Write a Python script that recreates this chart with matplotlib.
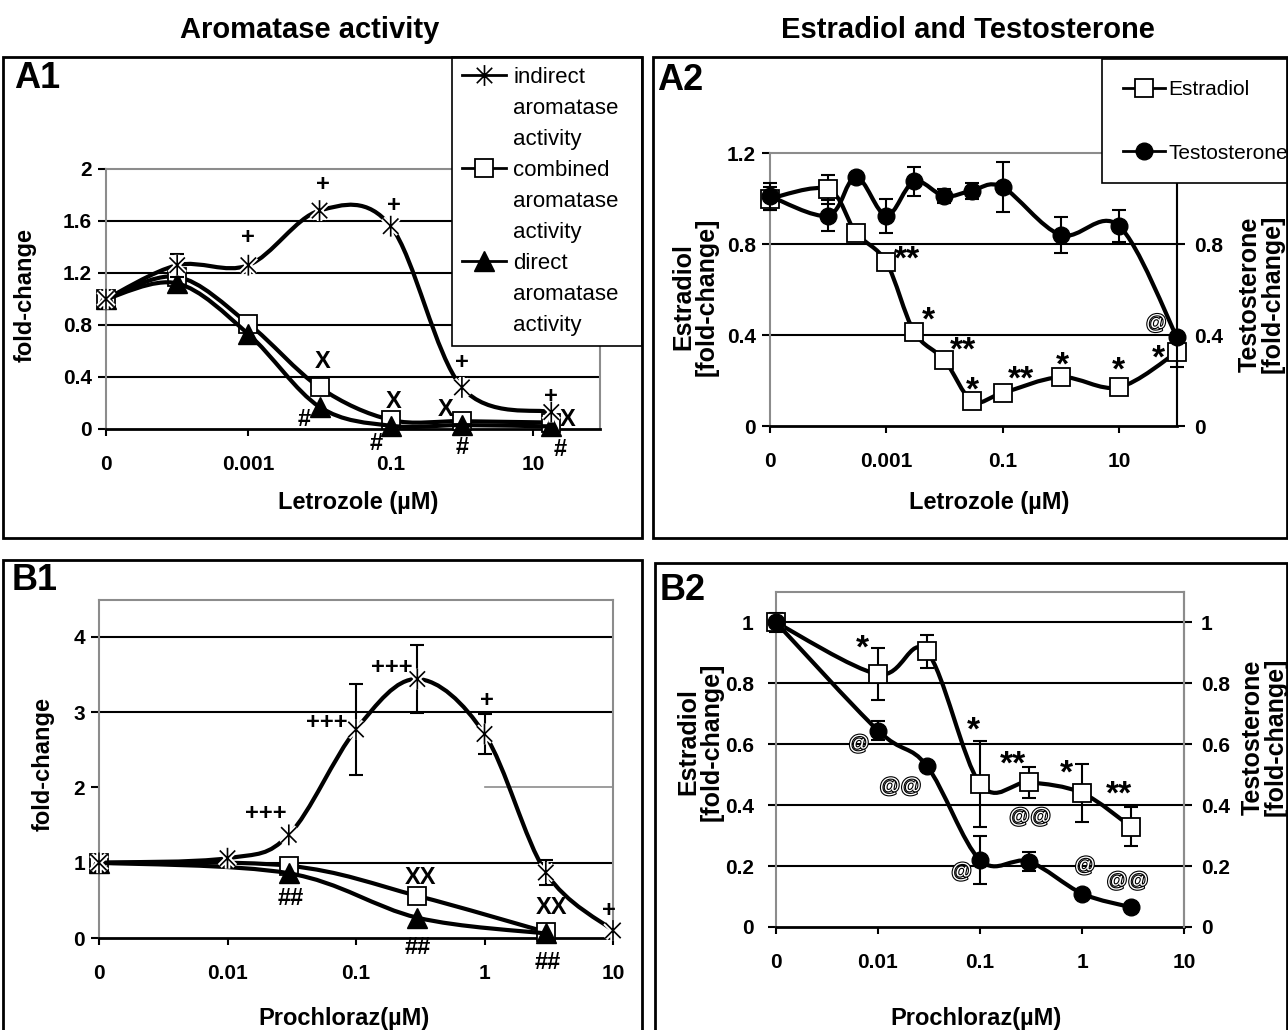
import matplotlib
matplotlib.use('Agg')
import matplotlib.pyplot as plt
import numpy as np
from matplotlib.path import Path
from matplotlib.patches import PathPatch, Rectangle
from matplotlib.lines import Line2D
from matplotlib.ticker import FormatStrFormatter
import matplotlib.transforms as mtransforms
import matplotlib.patheffects as pe

plt.rcParams['font.family'] = ['Liberation Sans Narrow', 'Liberation Sans', 'DejaVu Sans']

W, H = 1288, 1030

# ---------------- data ----------------
# A1: letrozole -> aromatase activity (fold-change)
a1_conc = [0, 1e-4, 1e-3, 1e-2, 1e-1, 1, 18]
a1_indirect = [1.0, 1.26, 1.26, 1.68, 1.56, 0.32, 0.13]
a1_indirect_err = [0, 0.09, 0, 0, 0, 0, 0]
a1_combined = [1.0, 1.17, 0.81, 0.32, 0.07, 0.06, 0.05]
a1_direct = [1.0, 1.12, 0.73, 0.17, 0.025, 0.03, 0.02]
a1_marks = [('+', 1e-3, 1.47), ('+', 1.1e-2, 1.88), ('+', 0.11, 1.72), ('+', 1.0, 0.51),
            ('+', 18, 0.25), ('X', 1.1e-2, 0.52), ('X', 0.11, 0.21), ('X', 0.6, 0.15),
            ('X', 31, 0.07), ('#', 6e-3, 0.07), ('#', 0.062, -0.11), ('#', 1.0, -0.14),
            ('#', 24, -0.16)]

# A2: letrozole -> estradiol / testosterone
a2_conc = [0, 1e-4, 3e-4, 1e-3, 3e-3, 1e-2, 3e-2, 1e-1, 1, 10, 100]
a2_estradiol = [1.0, 1.04, 0.85, 0.72, 0.415, 0.29, 0.11, 0.145, 0.215, 0.17, 0.325]
a2_estradiol_err = [0.05, 0.065, 0, 0, 0, 0, 0, 0, 0, 0, 0.065]
a2_testosterone = [1.01, 0.925, 1.095, 0.925, 1.075, 1.01, 1.035, 1.05, 0.84, 0.88, 0.39]
a2_testosterone_err = [0.06, 0.07, 0, 0.075, 0.065, 0.03, 0.035, 0.11, 0.08, 0.07, 0]
a2_marks = [('**', 2.3e-3, 0.765), ('*', 5.4e-3, 0.497), ('**', 0.021, 0.365), ('*', 0.03, 0.19),
            ('**', 0.21, 0.24), ('*', 1.07, 0.30), ('*', 10, 0.28), ('*', 47, 0.33), ('@', 44, 0.45)]

# B1: prochloraz -> aromatase activity
b1_conc = [0, 0.01, 0.03, 0.1, 0.3, 1, 3, 10]
b1_indirect = [1.0, 1.06, 1.37, 2.77, 3.44, 2.71, 0.87, 0.1]
b1_indirect_err = [0, 0, 0, 0.61, 0.45, 0.26, 0.16, 0]
b1_sub_conc = [0, 0.03, 0.3, 3]
b1_combined = [1.0, 0.96, 0.56, 0.08]
b1_direct = [1.0, 0.86, 0.27, 0.06]
b1_marks = [('+++', 0.02, 1.66), ('+++', 0.059, 2.86), ('+++', 0.19, 3.59), ('+', 1.05, 3.16),
            ('+', 9.3, 0.37), ('XX', 0.32, 0.81), ('XX', 3.3, 0.40), ('##', 0.031, 0.52),
            ('##', 0.3, -0.13), ('##', 3.1, -0.32)]

# B2: prochloraz -> estradiol / testosterone
b2_conc = [0, 0.01, 0.03, 0.1, 0.3, 1, 3]
b2_estradiol = [1.0, 0.83, 0.905, 0.47, 0.475, 0.44, 0.33]
b2_estradiol_err = [0.03, 0.085, 0.055, 0.14, 0.05, 0.095, 0.065]
b2_testosterone = [1.0, 0.645, 0.53, 0.22, 0.215, 0.11, 0.065]
b2_testosterone_err = [0, 0.03, 0, 0.08, 0.03, 0, 0]
b2_marks = [('*', 7e-3, 0.94), ('@', 6.5e-3, 0.60), ('@@', 0.0166, 0.46), ('*', 0.087, 0.67),
            ('**', 0.21, 0.56), ('@', 0.066, 0.18), ('@@', 0.31, 0.36), ('*', 0.71, 0.53),
            ('@', 1.07, 0.20), ('**', 2.3, 0.46), ('@@', 2.8, 0.15)]

a_ticks = [0, 0.001, 0.1, 10]
a_tick_labels = ['0', '0.001', '0.1', '10']
b_ticks = [0, 0.01, 0.1, 1, 10]
b_tick_labels = ['0', '0.01', '0.1', '1', '10']


def fx(x):
    return x / W


def fy(y):
    return 1 - y / H


def xpos(conc, zero):
    c = np.asarray(conc, dtype=float)
    out = np.full(c.shape, float(zero))
    m = c > 0
    out[m] = np.log10(c[m])
    return out


def smooth_path(x, y):
    # excel-like smoothed line (bezier through the points)
    pts = np.column_stack([x, y])
    n = len(pts)
    verts = [pts[0]]
    codes = [Path.MOVETO]
    for i in range(n - 1):
        p0 = pts[i - 1] if i > 0 else pts[i]
        p1 = pts[i]
        p2 = pts[i + 1]
        p3 = pts[i + 2] if i + 2 < n else pts[i + 1]
        verts += [p1 + (p2 - p0) / 6.0, p2 - (p3 - p1) / 6.0, p2]
        codes += [Path.CURVE4] * 3
    return Path(verts, codes)


star = Path([(-1, -1), (1, 1), (-1, 1), (1, -1), (0, -1.35), (0, 1.35)],
            [Path.MOVETO, Path.LINETO] * 3)
halo = [pe.Stroke(linewidth=4, foreground='white'), pe.Normal()]

STYLE = {
    'star': dict(marker=star, ms=15, mfc='none', mec='black', mew=1.2, path_effects=halo),
    'square': dict(marker='s', ms=13, mfc='white', mec='black', mew=1.3),
    'tri': dict(marker='^', ms=14, mfc='black', mec='black', mew=1),
    'dot': dict(marker='o', ms=12, mfc='black', mec='black', mew=1),
}


def series(ax, x, y, kind, err=None, z=3):
    y = np.asarray(y, dtype=float)
    ax.add_patch(PathPatch(smooth_path(x, y), fc='none', ec='black', lw=3,
                           zorder=z, clip_on=False, joinstyle='round'))
    if err is not None:
        e = np.asarray(err, dtype=float)
        m = e > 0
        ax.errorbar(x[m], y[m], yerr=e[m], fmt='none', ecolor='black', elinewidth=1.5,
                    capsize=5, capthick=1.5, zorder=z + 0.5, clip_on=False)
    ax.plot(x, y, ls='none', zorder=z + 1, clip_on=False, **STYLE[kind])


def proxy(kind):
    st = dict(STYLE[kind])
    st.pop('path_effects', None)
    return Line2D([], [], color='black', lw=2, **st)


def marks(ax, items, zero):
    low = mtransforms.offset_copy(ax.transData, fig=ax.figure, y=-6, units='points')
    for s, c, v in items:
        px = xpos([c], zero)[0]
        if '@' in s:
            ax.text(px, v, s, ha='center', va='center', fontsize=15,
                    color='white', zorder=8, clip_on=False,
                    path_effects=[pe.withStroke(linewidth=1.6, foreground='black')])
        elif '*' in s:
            ax.text(px, v, s, ha='center', va='center', fontsize=24, transform=low,
                    fontweight='bold', zorder=8, clip_on=False)
        else:
            ax.text(px, v, s, ha='center', va='center', fontsize=17,
                    fontweight='bold', zorder=8, clip_on=False)


def style(ax, zero, xmax, ticks, labels, ylim, yticks, grid):
    ax.set_xlim(zero, xmax)
    ax.set_ylim(*ylim)
    ax.set_xticks(xpos(ticks, zero), labels)
    ax.set_yticks(yticks)
    ax.yaxis.set_major_formatter(FormatStrFormatter('%g'))
    for s in ax.spines.values():
        s.set_color('#8c8c8c')
        s.set_linewidth(1.5)
    ax.spines['bottom'].set_color('black')
    ax.spines['bottom'].set_linewidth(2)
    ax.tick_params(axis='x', direction='out', length=5, width=1.5, labelsize=15, pad=14)
    ax.tick_params(axis='y', direction='out', length=6, width=1.5, labelsize=15, pad=4)
    for t in ax.get_xticklabels() + ax.get_yticklabels():
        t.set_fontweight('bold')
    for g in grid:
        ax.axhline(g, color='black', lw=1.5, zorder=1)


def twin(ax, ylim, yticks, color):
    ax2 = ax.twinx()
    ax2.set_ylim(*ylim)
    ax2.set_yticks(yticks)
    ax2.yaxis.set_major_formatter(FormatStrFormatter('%g'))
    for s in ax2.spines.values():
        s.set_visible(False)
    ax2.spines['right'].set_visible(True)
    ax2.spines['right'].set_color(color)
    ax2.spines['right'].set_linewidth(1.5)
    ax2.tick_params(axis='y', direction='out', length=6, width=1.5, labelsize=15, pad=6)
    for t in ax2.get_yticklabels():
        t.set_fontweight('bold')
    return ax2


fig = plt.figure(figsize=(W / 100, H / 100), dpi=100)

# panel frames
for (x0, y0, x1, y1) in [(3, 57, 642, 538), (653, 57, 1287, 538),
                         (3, 560, 642, 1040), (655, 563, 1287, 1040)]:
    fig.add_artist(Rectangle((fx(x0), fy(y1)), (x1 - x0) / W, (y1 - y0) / H,
                             transform=fig.transFigure, fill=False, lw=2, ec='black'))

fig.text(fx(310), fy(30), 'Aromatase activity', ha='center', va='center',
         fontsize=21, fontweight='bold')
fig.text(fx(968), fy(30), 'Estradiol and Testosterone', ha='center', va='center',
         fontsize=21, fontweight='bold')
for lab, (x, y) in {'A1': (14, 78), 'A2': (657, 80), 'B1': (12, 580), 'B2': (660, 591)}.items():
    fig.text(fx(x), fy(y), lab, ha='left', va='center', fontsize=26, fontweight='bold',
             family=['Liberation Sans', 'DejaVu Sans'])

# ---------------- A1 ----------------
ax = fig.add_axes([fx(106), fy(429), (600 - 106) / W, (429 - 169) / H])
style(ax, -5, 1.94, a_ticks, a_tick_labels, (0, 2), [0, 0.4, 0.8, 1.2, 1.6, 2],
      [0.4, 0.8, 1.2, 1.6])
x = xpos(a1_conc, -5)
series(ax, x, a1_combined, 'square', z=3)
series(ax, x, a1_direct, 'tri', z=4)
series(ax, x, a1_indirect, 'star', err=a1_indirect_err, z=5)
marks(ax, a1_marks, -5)
blank = Line2D([], [], ls='none')
leg = ax.legend([proxy('star'), blank, blank, proxy('square'), blank, blank, proxy('tri'), blank, blank],
                ['indirect', 'aromatase', 'activity', 'combined', 'aromatase', 'activity',
                 'direct', 'aromatase', 'activity'],
                loc='upper left', bbox_to_anchor=(fx(452), fy(338), (642 - 452) / W, (338 - 57) / H),
                bbox_transform=fig.transFigure, mode='expand', fontsize=16, fancybox=False,
                edgecolor='black', framealpha=1, borderpad=0.45, labelspacing=0.45,
                handlelength=2.0, handletextpad=0.3, borderaxespad=0)
leg.get_frame().set_linewidth(1.2)
leg.set_zorder(10)

# ---------------- A2 ----------------
ax = fig.add_axes([fx(770), fy(426), (1177 - 770) / W, (426 - 153) / H])
style(ax, -5, 2, a_ticks, a_tick_labels, (0, 1.2), [0, 0.4, 0.8, 1.2], [0.4, 0.8])
ax2 = twin(ax, (0, 1.2), [0, 0.4, 0.8], 'black')
x = xpos(a2_conc, -5)
series(ax, x, a2_estradiol, 'square', err=a2_estradiol_err, z=3)
series(ax2, x, a2_testosterone, 'dot', err=a2_testosterone_err, z=3)
marks(ax, a2_marks, -5)
leg = ax2.legend([proxy('square'), proxy('dot')], ['Estradiol', 'Testosterone'],
                 loc='upper left', bbox_to_anchor=(fx(1102), fy(182), (1300 - 1102) / W, (182 - 59) / H),
                 bbox_transform=fig.transFigure, mode='expand', fontsize=15, fancybox=False,
                 edgecolor='black', framealpha=1, borderpad=1.0, labelspacing=2.15,
                 handlelength=2.0, handletextpad=0.2, borderaxespad=0)
leg.get_frame().set_linewidth(1.2)
leg.set_zorder(10)

# ---------------- B1 ----------------
ax = fig.add_axes([fx(99), fy(938), (613 - 99) / W, (938 - 600) / H])
style(ax, -3, 1, b_ticks, b_tick_labels, (0, 4.49), [0, 1, 2, 3, 4], [1, 3, 4])
ax.axhline(2, xmin=0.75, color='#8c8c8c', lw=1.2, zorder=1)
x = xpos(b1_conc, -3)
xs = xpos(b1_sub_conc, -3)
series(ax, xs, b1_combined, 'square', z=3)
series(ax, xs, b1_direct, 'tri', z=4)
series(ax, x, b1_indirect, 'star', err=b1_indirect_err, z=5)
marks(ax, b1_marks, -3)

# ---------------- B2 ----------------
ax = fig.add_axes([fx(776), fy(927), (1184 - 776) / W, (927 - 592) / H])
style(ax, -3, 1, b_ticks, b_tick_labels, (0, 1.1), [0, 0.2, 0.4, 0.6, 0.8, 1],
      [0.2, 0.4, 0.6, 0.8, 1.0])
ax.tick_params(axis='y', pad=10)
ax2 = twin(ax, (0, 1.1), [0, 0.2, 0.4, 0.6, 0.8, 1], '#8c8c8c')
x = xpos(b2_conc, -3)
series(ax, x, b2_estradiol, 'square', err=b2_estradiol_err, z=3)
series(ax2, x, b2_testosterone, 'dot', err=b2_testosterone_err, z=3)
marks(ax2, b2_marks, -3)

# axis titles
lab = dict(ha='center', va='center', fontsize=17, fontweight='bold')
fig.text(fx(358), fy(503), 'Letrozole (µM)', **lab)
fig.text(fx(989), fy(502), 'Letrozole (µM)', **lab)
fig.text(fx(344), fy(1018), 'Prochloraz(µM)', **lab)
fig.text(fx(976), fy(1018), 'Prochloraz(µM)', **lab)
fig.text(fx(25), fy(295), 'fold-change', rotation=90, **lab)
fig.text(fx(43), fy(764), 'fold-change', rotation=90, **lab)
lab2 = dict(ha='center', va='center', fontsize=18, fontweight='bold', rotation=90,
            multialignment='center', linespacing=0.95)
fig.text(fx(695), fy(297), 'Estradiol\n[fold-change]', **lab2)
fig.text(fx(1261), fy(294), 'Testosterone\n[fold-change]', **lab2)
fig.text(fx(700), fy(742), 'Estradiol\n[fold-change]', **lab2)
fig.text(fx(1264), fy(737), 'Testosterone\n[fold-change]', **lab2)

fig.savefig('out.png', dpi=100)
